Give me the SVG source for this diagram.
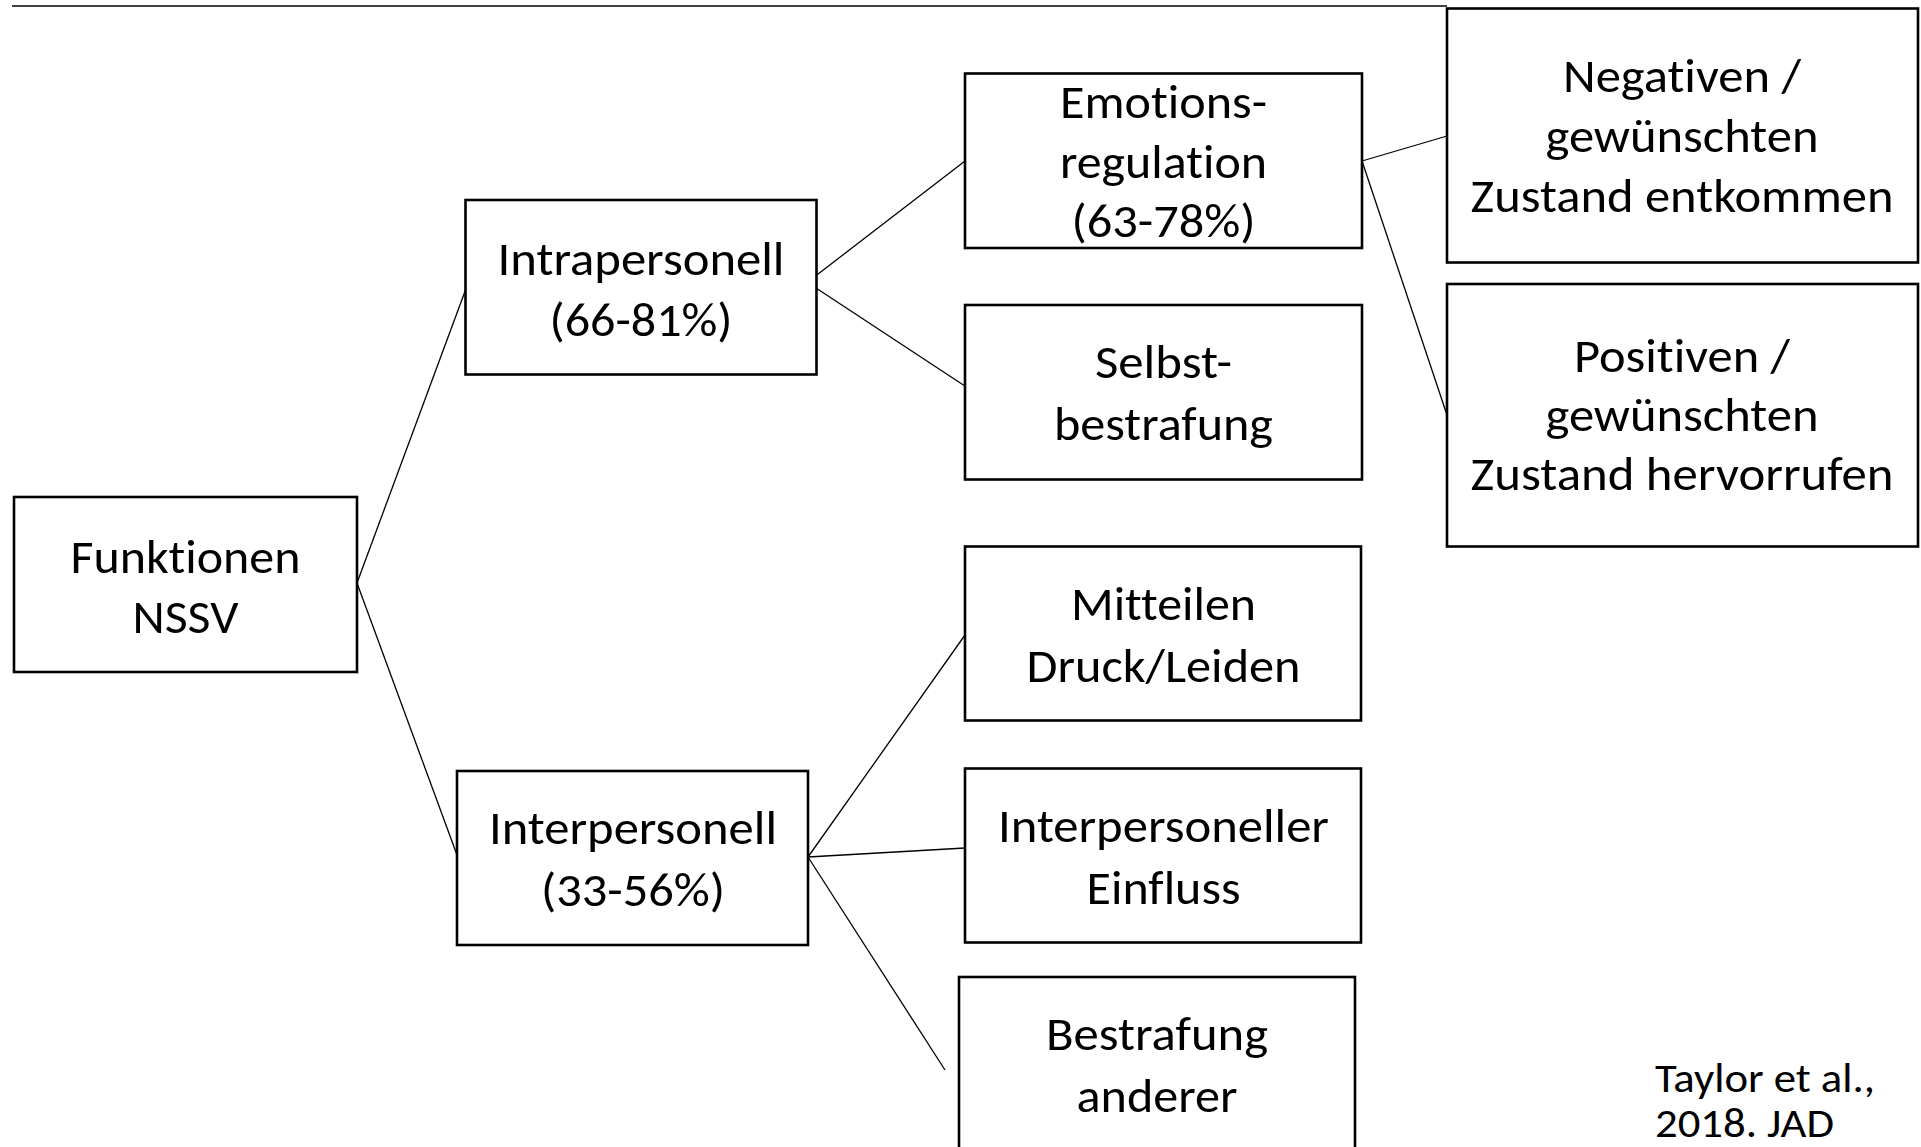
<svg xmlns="http://www.w3.org/2000/svg" width="1921" height="1147" viewBox="0 0 1921 1147">
<style>
.box{fill:#fff;stroke:#000;stroke-width:2.6}
.ln{stroke:#000;stroke-width:1.3;fill:none}
text{font-family:Carlito,Lato,"Liberation Sans",sans-serif;font-size:47px;fill:#000;text-anchor:middle;font-variant-ligatures:none}
.cite{text-anchor:start;font-size:42px}
</style>
<rect width="1921" height="1147" fill="#fff"/>
<g id="connectors">
<line class="ln" x1="12" y1="6" x2="1447" y2="6" stroke-width="1.6"/>
<line class="ln" x1="357" y1="583" x2="465.5" y2="290"/>
<line class="ln" x1="357" y1="583" x2="457" y2="855"/>
<line class="ln" x1="809" y1="281" x2="965" y2="161"/>
<line class="ln" x1="816" y1="288" x2="974" y2="392"/>
<line class="ln" x1="1362" y1="161" x2="1447" y2="136"/>
<line class="ln" x1="1362" y1="161" x2="1447" y2="415"/>
<line class="ln" x1="808" y1="857" x2="965" y2="635"/>
<line class="ln" x1="808" y1="857" x2="965" y2="848"/>
<line class="ln" x1="808" y1="857" x2="945" y2="1070"/>
</g>
<g id="n-funktionen">
<rect class="box" x="14" y="497" width="343" height="175"/>
<text x="185.5" y="573" textLength="230" lengthAdjust="spacingAndGlyphs">Funktionen</text>
<text x="185.5" y="633" textLength="106" lengthAdjust="spacingAndGlyphs">NSSV</text>
</g>
<g id="n-intra">
<rect class="box" x="465.5" y="200" width="351" height="174.5"/>
<text x="641" y="275" textLength="287" lengthAdjust="spacingAndGlyphs">Intrapersonell</text>
<text x="641" y="336" textLength="183" lengthAdjust="spacingAndGlyphs">(66-81%)</text>
</g>
<g id="n-inter">
<rect class="box" x="457" y="771" width="351" height="174"/>
<text x="633" y="844" textLength="288" lengthAdjust="spacingAndGlyphs">Interpersonell</text>
<text x="633" y="906" textLength="184" lengthAdjust="spacingAndGlyphs">(33-56%)</text>
</g>
<g id="n-emotion">
<rect class="box" x="965" y="73.5" width="397" height="174.5"/>
<text x="1163.5" y="118" textLength="207" lengthAdjust="spacingAndGlyphs">Emotions-</text>
<text x="1163.5" y="178" textLength="207" lengthAdjust="spacingAndGlyphs">regulation</text>
<text x="1163.5" y="237" textLength="184" lengthAdjust="spacingAndGlyphs">(63-78%)</text>
</g>
<g id="n-selbst">
<rect class="box" x="965" y="305" width="397" height="174.5"/>
<text x="1163.5" y="378" textLength="137" lengthAdjust="spacingAndGlyphs">Selbst-</text>
<text x="1163.5" y="440" textLength="219" lengthAdjust="spacingAndGlyphs">bestrafung</text>
</g>
<g id="n-negativ">
<rect class="box" x="1447" y="8.5" width="471" height="254"/>
<text x="1682" y="92" textLength="238" lengthAdjust="spacingAndGlyphs">Negativen /</text>
<text x="1682" y="152" textLength="273" lengthAdjust="spacingAndGlyphs">gewünschten</text>
<text x="1682" y="212" textLength="423" lengthAdjust="spacingAndGlyphs">Zustand entkommen</text>
</g>
<g id="n-positiv">
<rect class="box" x="1447" y="284" width="471" height="262.5"/>
<text x="1682" y="372" textLength="216" lengthAdjust="spacingAndGlyphs">Positiven /</text>
<text x="1682" y="431" textLength="273" lengthAdjust="spacingAndGlyphs">gewünschten</text>
<text x="1682" y="490" textLength="423" lengthAdjust="spacingAndGlyphs">Zustand hervorrufen</text>
</g>
<g id="n-mitteilen">
<rect class="box" x="965" y="546.5" width="396" height="174"/>
<text x="1163.5" y="620" textLength="185" lengthAdjust="spacingAndGlyphs">Mitteilen</text>
<text x="1163.5" y="682" textLength="274" lengthAdjust="spacingAndGlyphs">Druck/Leiden</text>
</g>
<g id="n-einfluss">
<rect class="box" x="965" y="768.5" width="396" height="174"/>
<text x="1163.5" y="842" textLength="331" lengthAdjust="spacingAndGlyphs">Interpersoneller</text>
<text x="1163.5" y="904" textLength="154" lengthAdjust="spacingAndGlyphs">Einfluss</text>
</g>
<g id="n-bestrafung">
<rect class="box" x="959" y="977" width="396" height="200"/>
<text x="1157" y="1050" textLength="222" lengthAdjust="spacingAndGlyphs">Bestrafung</text>
<text x="1157" y="1112" textLength="161" lengthAdjust="spacingAndGlyphs">anderer</text>
</g>
<g id="citation">
<text class="cite" x="1655" y="1092" textLength="220" lengthAdjust="spacingAndGlyphs">Taylor et al.,</text>
<text class="cite" x="1655" y="1137" textLength="179" lengthAdjust="spacingAndGlyphs">2018. JAD</text>
</g>
</svg>
